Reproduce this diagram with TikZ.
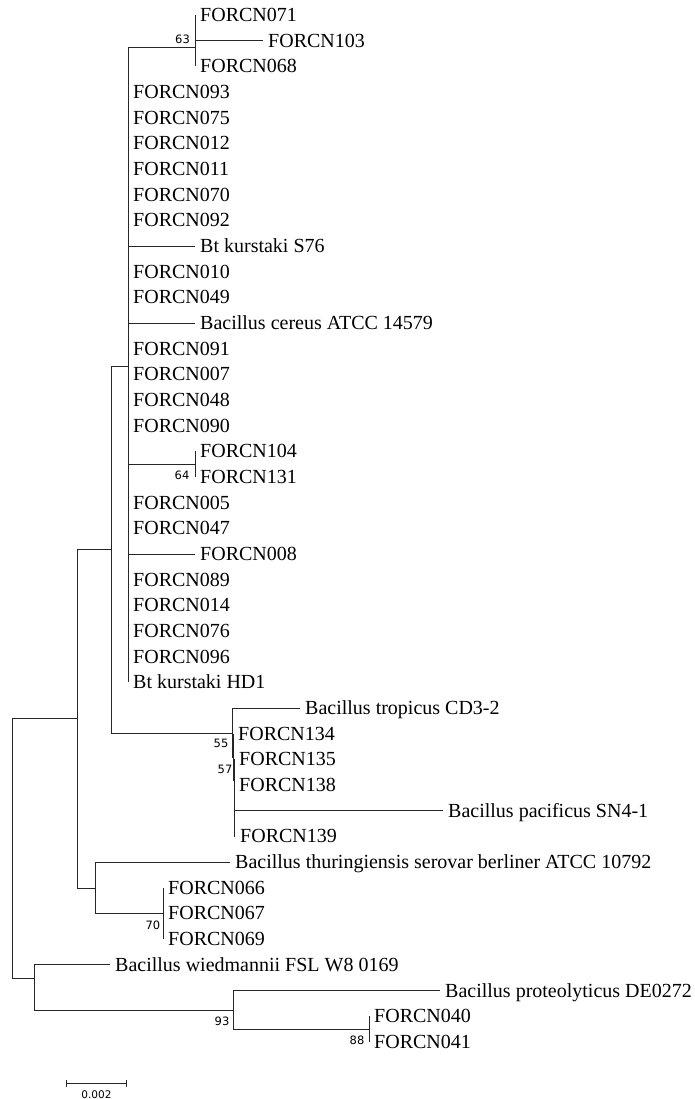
\documentclass[tikz,border=0pt]{standalone}
\usepackage{fontspec}
\setmainfont{Liberation Serif}
\newfontfamily\bootfont{DejaVu Sans}
\usepackage{tikz}
\usetikzlibrary{arrows.meta}

\begin{document}
\begin{tikzpicture}[x=1pt,y=-1pt,
  leaf/.style={anchor=west,inner xsep=5pt,inner ysep=0pt,text height=13pt,text depth=0pt,font=\fontsize{20}{22}\selectfont},
  boot/.style={inner sep=0pt,font=\bootfont\fontsize{11.5}{13}\selectfont},
  branch/.style={line width=0.9pt,black!85}]
  \useasboundingbox (0,0) rectangle (694,1099);

  % inner nodes of the tree
  \coordinate (root) at (12,848);
  \coordinate (nA)   at (77,718);
  \coordinate (nB)   at (111,549);
  \coordinate (nK)   at (128,366);
  \coordinate (n63)  at (195,47);
  \coordinate (n64)  at (195,464);
  \coordinate (n55)  at (232,733);
  \coordinate (n57)  at (233,757);
  \coordinate (nX)   at (234,780);
  \coordinate (nBer) at (95,888);
  \coordinate (n70)  at (163,913);
  \coordinate (nW)   at (34,978);
  \coordinate (n93)  at (233,1010);
  \coordinate (n88)  at (369,1029);

  % taxa
  \node[leaf] (l071) at (195,15.0)  {FORCN071};
  \node[leaf] (l103) at (263,40.7)  {FORCN103};
  \node[leaf] (l068) at (195,66.3)  {FORCN068};
  \node[leaf] (l093) at (128,92.0)  {FORCN093};
  \node[leaf] (l075) at (128,117.7) {FORCN075};
  \node[leaf] (l012) at (128,143.4) {FORCN012};
  \node[leaf] (l011) at (128,169.0) {FORCN011};
  \node[leaf] (l070) at (128,194.7) {FORCN070};
  \node[leaf] (l092) at (128,220.4) {FORCN092};
  \node[leaf] (ls76) at (195,246.0) {Bt kurstaki S76};
  \node[leaf] (l010) at (128,271.7) {FORCN010};
  \node[leaf] (l049) at (128,297.4) {FORCN049};
  \node[leaf] (lcer) at (195,323.0) {Bacillus cereus ATCC 14579};
  \node[leaf] (l091) at (128,348.7) {FORCN091};
  \node[leaf] (l007) at (128,374.4) {FORCN007};
  \node[leaf] (l048) at (128,400.1) {FORCN048};
  \node[leaf] (l090) at (128,425.7) {FORCN090};
  \node[leaf] (l104) at (195,451.4) {FORCN104};
  \node[leaf] (l131) at (195,477.1) {FORCN131};
  \node[leaf] (l005) at (128,502.7) {FORCN005};
  \node[leaf] (l047) at (128,528.4) {FORCN047};
  \node[leaf] (l008) at (195,554.1) {FORCN008};
  \node[leaf] (l089) at (128,579.7) {FORCN089};
  \node[leaf] (l014) at (128,605.4) {FORCN014};
  \node[leaf] (l076) at (128,631.1) {FORCN076};
  \node[leaf] (l096) at (128,656.8) {FORCN096};
  \node[leaf] (lhd1) at (128,682.4) {Bt kurstaki HD1};
  \node[leaf] (ltro) at (300,708.1) {Bacillus tropicus CD3-2};
  \node[leaf] (l134) at (233,733.8) {FORCN134};
  \node[leaf] (l135) at (234,759.4) {FORCN135};
  \node[leaf] (l138) at (234,785.1) {FORCN138};
  \node[leaf] (lpac) at (443,810.8) {Bacillus pacificus SN4-1};
  \node[leaf] (l139) at (235,836.4) {FORCN139};
  \node[leaf] (lber) at (230,862.1) {Bacillus thuringiensis serovar berliner ATCC 10792};
  \node[leaf] (l066) at (163,887.8) {FORCN066};
  \node[leaf] (l067) at (163,913.4) {FORCN067};
  \node[leaf] (l069) at (163,939.1) {FORCN069};
  \node[leaf] (lwie) at (110,964.8) {Bacillus wiedmannii FSL W8 0169};
  \node[leaf] (lpro) at (440,990.5) {Bacillus proteolyticus DE0272};
  \node[leaf] (l040) at (369,1016.1) {FORCN040};
  \node[leaf] (l041) at (369,1041.8) {FORCN041};

  % bootstrap values
  \node[boot] (b63) at (182.5,39.5) {63};
  \node[boot] (b64) at (182,475)    {64};
  \node[boot] (b55) at (221,743)    {55};
  \node[boot] (b57) at (225,769)    {57};
  \node[boot] (b70) at (153,925)    {70};
  \node[boot] (b93) at (222,1021)   {93};
  \node[boot] (b88) at (357,1040)   {88};

  % branches
  \draw[branch] (root) |- (nA)  (root) |- (nW);
  \draw[branch] (nA) |- (nB)  (nA) |- (nBer);
  \draw[branch] (nB) |- (nK)  (nB) |- (n55);
  \draw[branch] (nK) |- (n63)  (nK) |- (l093.west)  (nK) |- (l075.west)
    (nK) |- (l012.west)  (nK) |- (l011.west)  (nK) |- (l070.west)
    (nK) |- (l092.west)  (nK) |- (ls76.west)  (nK) |- (l010.west)
    (nK) |- (l049.west)  (nK) |- (lcer.west)  (nK) |- (l091.west)
    (nK) |- (l007.west)  (nK) |- (l048.west)  (nK) |- (l090.west)
    (nK) |- (n64)  (nK) |- (l005.west)  (nK) |- (l047.west)
    (nK) |- (l008.west)  (nK) |- (l089.west)  (nK) |- (l014.west)
    (nK) |- (l076.west)  (nK) |- (l096.west)  (nK) |- (lhd1.west);
  \draw[branch] (n63) |- (l071.west)  (n63) |- (l103.west)  (n63) |- (l068.west);
  \draw[branch] (n64) |- (l104.west)  (n64) |- (l131.west);
  \draw[branch] (n55) |- (ltro.west)  (n55) |- (n57);
  \draw[branch] (n57) |- (l134.west)  (n57) |- (nX);
  \draw[branch] (nX) |- (l135.west)  (nX) |- (l138.west)
    (nX) |- (lpac.west)  (nX) |- (l139.west);
  \draw[branch] (nBer) |- (lber.west)  (nBer) |- (n70);
  \draw[branch] (n70) |- (l066.west)  (n70) |- (l067.west)  (n70) |- (l069.west);
  \draw[branch] (nW) |- (lwie.west)  (nW) |- (n93);
  \draw[branch] (n93) |- (lpro.west)  (n93) |- (n88);
  \draw[branch] (n88) |- (l040.west)  (n88) |- (l041.west);

  % scale bar
  \coordinate (sbL) at (66,1083);
  \coordinate (sbR) at (127,1083);
  \draw[branch,{Bar[width=7pt]}-{Bar[width=7pt]}] (sbL) -- (sbR);
  \node[boot,font=\bootfont\fontsize{10.5}{12}\selectfont] (sbtext) at (96.5,1094.5) {0.002};
\end{tikzpicture}
\end{document}
